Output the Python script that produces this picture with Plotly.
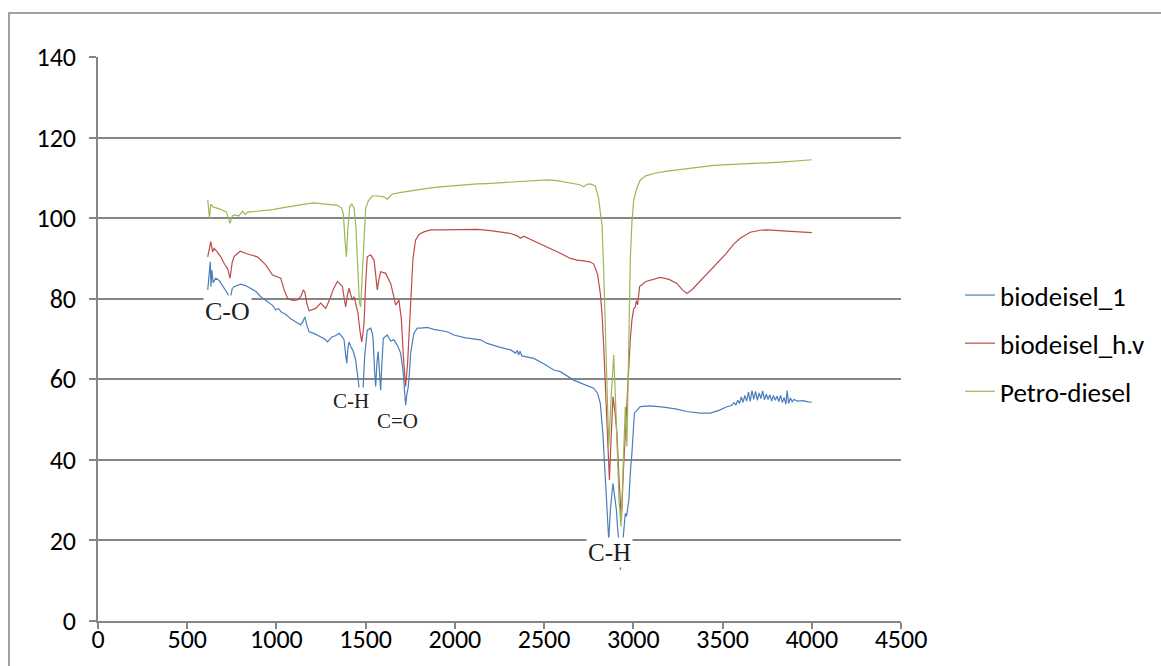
import plotly.graph_objects as go

# ---------------- data ----------------
petro_x = [615, 625, 632, 645, 688, 720, 740, 752, 763, 790, 810, 825, 838, 880, 931, 980, 1024, 1070,
           1118, 1160, 1209, 1250, 1286, 1320, 1342, 1365, 1375, 1385, 1392, 1400, 1410, 1422, 1435, 1445,
           1455, 1465, 1472, 1480, 1490, 1500, 1515, 1537, 1570, 1603, 1621, 1649, 1700, 1750, 1808, 1845,
           1900, 1950, 2000, 2125, 2181, 2300, 2405, 2517, 2573, 2620, 2666, 2700, 2722, 2740, 2759, 2787,
           2805, 2815, 2825, 2834, 2843, 2852, 2862, 2875, 2890, 2900, 2908, 2920, 2931, 2945, 2955, 2964,
           2975, 2983, 2992, 3002, 3020, 3039, 3070, 3114, 3180, 3244, 3300, 3375, 3450, 3530, 3600, 3711,
           3780, 3850, 3920, 3960, 4000]
petro_y = [104.5, 100.0, 103.5, 102.8, 102.2, 101.5, 98.7, 100.5, 100.8, 100.6, 101.8, 100.9, 101.5, 101.7,
           102.0, 102.1, 102.5, 102.9, 103.3, 103.5, 103.8, 103.6, 103.6, 103.4, 103.2, 102.5, 101.0, 94.0,
           90.4, 97.0, 102.8, 103.5, 102.5, 98.0, 88.0, 79.0, 78.0, 85.0, 97.0, 102.5, 104.3, 105.5, 105.5,
           105.3, 104.7, 106.0, 106.4, 106.8, 107.1, 107.4, 107.7, 107.9, 108.1, 108.5, 108.6, 108.9, 109.1,
           109.5, 109.3, 108.9, 108.5, 108.3, 107.8, 108.4, 108.5, 108.0, 105.0, 102.0, 98.0, 87.0, 73.0,
           55.0, 43.3, 55.0, 66.0, 55.0, 45.0, 30.0, 23.4, 40.0, 53.2, 43.3, 70.0, 89.6, 99.0, 104.5, 107.5,
           109.5, 110.5, 111.1, 111.6, 112.0, 112.3, 112.8, 113.1, 113.3, 113.4, 113.6, 113.8, 114.0, 114.2,
           114.3, 114.5]

hv_x = [615, 625, 632, 642, 651, 670, 688, 710, 726, 740, 752, 763, 797, 838, 894, 940, 978, 1024, 1043,
        1062, 1090, 1118, 1136, 1151, 1160, 1170, 1183, 1220, 1248, 1276, 1300, 1320, 1342, 1360, 1370,
        1380, 1388, 1398, 1407, 1416, 1426, 1435, 1446, 1457, 1468, 1478, 1486, 1491, 1500, 1509, 1528,
        1547, 1556, 1565, 1575, 1584, 1612, 1640, 1655, 1668, 1686, 1700, 1712, 1724, 1735, 1742, 1752,
        1765, 1780, 1800, 1826, 1864, 1920, 2000, 2125, 2200, 2312, 2350, 2368, 2385, 2420, 2517, 2591,
        2647, 2685, 2722, 2760, 2778, 2800, 2815, 2825, 2834, 2845, 2853, 2866, 2876, 2886, 2897, 2908,
        2920, 2933, 2945, 2955, 2966, 2975, 2983, 2992, 3002, 3011, 3017, 3024, 3035, 3070, 3095, 3151,
        3200, 3244, 3275, 3300, 3330, 3375, 3420, 3468, 3520, 3561, 3599, 3655, 3711, 3748, 3800, 3860,
        3930, 4000]
hv_y = [90.4, 93.0, 94.2, 91.7, 92.5, 91.5, 90.4, 88.5, 87.5, 85.1, 89.0, 90.5, 91.8, 91.1, 90.4, 88.4,
        85.9, 85.1, 82.2, 80.1, 79.6, 79.7, 80.5, 82.2, 81.5, 78.9, 77.0, 77.6, 78.9, 77.6, 80.0, 82.5,
        84.3, 83.5, 83.0, 80.0, 78.0, 81.0, 82.6, 81.0, 79.7, 80.5, 78.5, 76.4, 72.0, 69.3, 72.0, 74.0,
        84.0, 90.4, 90.9, 89.6, 86.0, 82.2, 85.0, 86.7, 86.3, 83.8, 81.0, 78.4, 79.7, 75.0, 65.0, 58.2,
        64.0, 70.0, 80.0, 90.0, 94.6, 96.0, 96.6, 97.1, 97.1, 97.2, 97.2, 96.9, 96.2, 95.6, 95.0, 95.5,
        94.8, 92.9, 91.3, 90.0, 89.6, 89.4, 89.1, 88.6, 86.0, 81.3, 76.0, 68.0, 55.0, 48.2, 35.0, 46.0,
        55.7, 52.0, 46.6, 35.0, 25.1, 38.0, 46.6, 55.0, 62.0, 70.0, 74.7, 77.5, 78.0, 79.5, 78.5, 83.0,
        84.3, 84.6, 85.3, 84.8, 83.8, 82.2, 81.3, 82.3, 84.4, 86.3, 88.6, 91.2, 93.5, 95.0, 96.5, 97.0,
        97.1, 97.0, 96.8, 96.6, 96.4]

b1_x = [615, 622, 629, 633, 638, 645, 660, 680, 697, 715, 726, 740, 752, 763, 800, 830, 856, 885, 912,
        935, 959, 980, 996, 1010, 1030, 1050, 1080, 1110, 1136, 1150, 1159, 1170, 1183, 1210, 1248, 1270,
        1286, 1310, 1330, 1351, 1370, 1379, 1388, 1394, 1400, 1407, 1418, 1430, 1444, 1455, 1463, 1471,
        1478, 1485, 1495, 1509, 1528, 1537, 1542, 1550, 1556, 1563, 1570, 1577, 1584, 1591, 1599, 1621,
        1640, 1658, 1677, 1696, 1711, 1718, 1724, 1730, 1739, 1746, 1752, 1770, 1789, 1808, 1845, 1882,
        1957, 1994, 2060, 2144, 2181, 2250, 2312, 2340, 2350, 2357, 2365, 2375, 2442, 2500, 2554, 2591,
        2630, 2666, 2720, 2778, 2800, 2815, 2830, 2842, 2849, 2856, 2862, 2872, 2886, 2895, 2905, 2912,
        2918, 2927, 2935, 2942, 2955, 2962, 2975, 2985, 2992, 3006, 3024, 3039, 3095, 3170, 3244, 3300,
        3375, 3431, 3480, 3524, 3550, 3565, 3575, 3585, 3595, 3605, 3615, 3625, 3635, 3645, 3655, 3665,
        3675, 3685, 3695, 3705, 3715, 3725, 3735, 3745, 3755, 3765, 3775, 3785, 3795, 3805, 3815, 3825,
        3835, 3845, 3855, 3862, 3870, 3880, 3890, 3900, 3920, 3950, 3980, 4000]
b1_y = [82.2, 85.0, 89.2, 83.0, 87.1, 84.0, 85.1, 84.5, 83.4, 82.0, 81.3, 79.7, 82.5, 83.0, 83.6, 83.2,
        82.6, 81.8, 80.5, 79.8, 78.9, 78.3, 77.2, 77.6, 76.6, 76.2, 75.0, 74.2, 73.5, 74.5, 75.5, 73.5,
        71.8, 71.4, 70.6, 70.0, 69.3, 70.5, 70.8, 71.4, 70.5, 69.8, 66.0, 64.0, 67.5, 69.3, 68.0, 67.0,
        64.8, 61.0, 59.0, 55.0, 51.5, 57.0, 66.0, 72.2, 72.7, 71.5, 69.8, 62.0, 58.2, 64.0, 66.9, 62.0,
        57.3, 64.0, 70.2, 71.0, 69.5, 69.8, 68.5, 66.5, 61.5, 57.0, 53.6, 56.0, 58.2, 62.0, 66.5, 71.4,
        72.7, 72.7, 72.9, 72.4, 71.8, 71.0, 70.3, 69.8, 68.9, 68.0, 67.3, 66.5, 67.2, 66.0, 67.0, 65.8,
        65.2, 63.8, 62.3, 61.9, 60.8, 59.8, 58.8, 57.8, 56.5, 54.0, 46.0, 36.0, 31.7, 24.0, 20.1, 28.0,
        34.2, 31.0, 27.6, 23.0, 20.1, 12.7, 17.0, 20.1, 26.7, 26.0, 30.0, 38.0, 41.6, 51.6, 52.4, 53.2,
        53.4, 53.1, 52.6, 52.0, 51.6, 51.6, 52.3, 53.2, 53.5, 54.2, 53.6, 54.8, 54.0, 55.6, 54.3, 56.0,
        54.6, 56.8, 54.5, 57.2, 55.0, 57.0, 54.8, 56.6, 55.2, 57.1, 54.9, 56.3, 55.0, 56.2, 54.6, 56.0,
        54.8, 55.8, 54.5, 56.0, 54.2, 55.5, 53.8, 57.2, 54.0, 55.4, 54.4, 55.0, 54.6, 54.7, 54.4, 54.3]

series_names = ["biodeisel_1", "biodeisel_h.v", "Petro-diesel"]
series_colors = ["#4A7EBB", "#BE4B48", "#98B954"]

x_ticks = [0, 500, 1000, 1500, 2000, 2500, 3000, 3500, 4000, 4500]
y_ticks = [0, 20, 40, 60, 80, 100, 120, 140]

peak_labels = ["C-O", "C-H", "C=O", "C-H"]
peak_x = [723, 1418, 1676, 2864]
peak_y = [76.9, 54.6, 49.6, 17.1]
peak_sizes = [26, 21, 21, 25]

# ---------------- figure ----------------
fig = go.Figure()
for name, xs, ys, col in zip(series_names, [b1_x, hv_x, petro_x], [b1_y, hv_y, petro_y], series_colors):
    fig.add_trace(go.Scatter(x=xs, y=ys, mode="lines", name=name, legendgroup=name,
                             line=dict(color=col, width=1.2)))

for t, px_, py_, fs in zip(peak_labels, peak_x, peak_y, peak_sizes):
    fig.add_annotation(x=px_, y=py_, text=t, showarrow=False, xref="x", yref="y",
                       font=dict(family="Liberation Serif, Times New Roman, serif", size=fs, color="#1e1e1e"),
                       bgcolor="white", borderpad=1)

L, R, T, B = 98, 901, 57, 621
W, H = 1161, 666
pw, ph = R - L, B - T

# outer chart-area border
fig.add_shape(type="rect", xref="paper", yref="paper",
              x0=(9 - L) / pw, x1=(1170 - L) / pw, y0=(B - 680) / ph, y1=(B - 13) / ph,
              line=dict(color="#A0A0A0", width=2), fillcolor="rgba(0,0,0,0)", layer="below")

FONT = "Carlito, Lato, Calibri, sans-serif"
axis_font = dict(family=FONT, size=26, color="#000000")
fig.update_layout(
    width=W, height=H,
    margin=dict(l=L, r=W - R, t=T, b=H - B, pad=0, autoexpand=False),
    paper_bgcolor="white", plot_bgcolor="white",
    showlegend=True,
    legend=dict(x=(960 - L) / pw, y=(B - 271) / ph, xanchor="left", yanchor="top",
                font=dict(family=FONT, size=27, color="#000000"),
                tracegroupgap=10, traceorder="grouped", bgcolor="rgba(0,0,0,0)"),
    xaxis=dict(range=[0, 4500], tickvals=x_ticks, ticktext=[str(v) for v in x_ticks],
               showgrid=False, zeroline=False, showline=True, linecolor="#868686", linewidth=1.5,
               ticks="outside", ticklen=6, tickwidth=1.5, tickcolor="#868686", automargin=False,
               tickfont=axis_font, ticklabelstandoff=-12),
    yaxis=dict(range=[0, 140.01], tickvals=y_ticks, ticktext=[str(v) for v in y_ticks],
               showgrid=True, gridcolor="#868686", gridwidth=1.5, zeroline=False,
               showline=True, linecolor="#868686", linewidth=1.5, automargin=False,
               ticks="outside", ticklen=7, tickwidth=1.5, tickcolor="#868686",
               tickfont=axis_font, ticklabelstandoff=8),
)

fig.write_html("out.html")
